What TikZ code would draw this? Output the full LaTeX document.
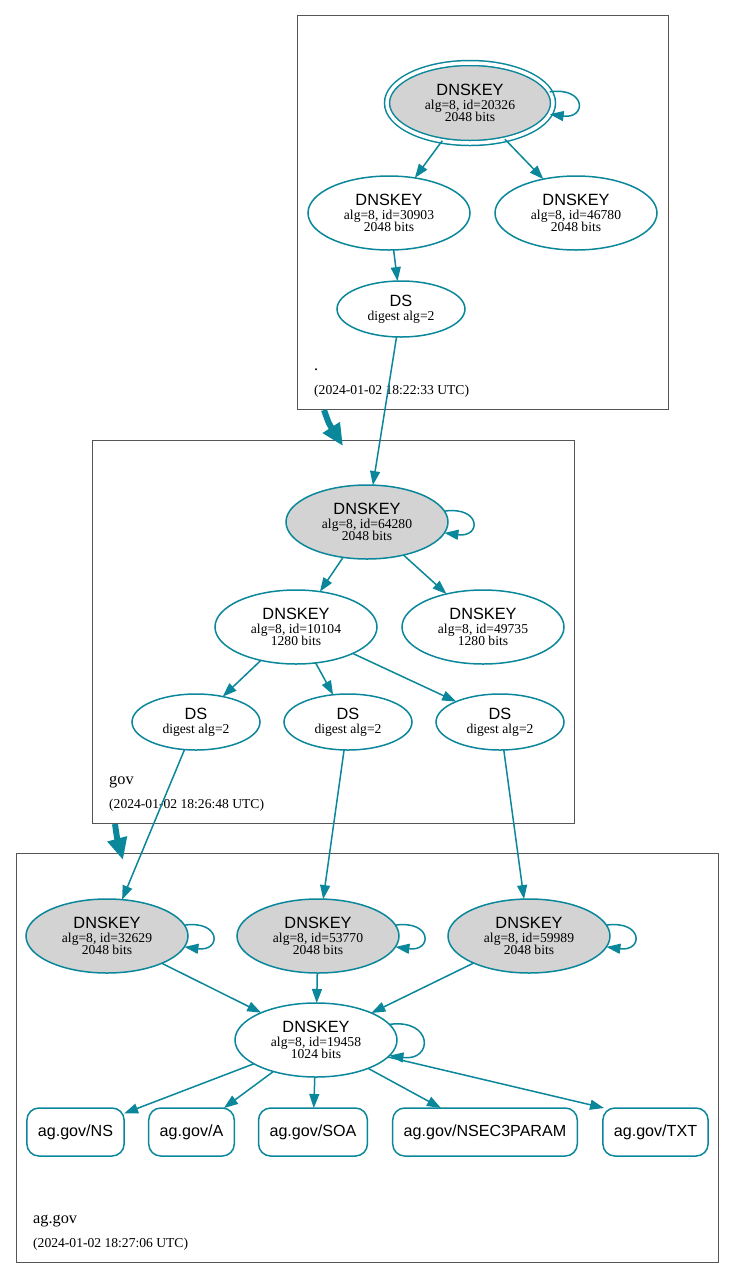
\documentclass[tikz,border=0pt]{standalone}
\usepackage{fontspec}
\setmainfont{Liberation Serif}
\setsansfont{Liberation Sans}
\usepackage{tkz-graph}
\usetikzlibrary{arrows.meta}
\usetikzlibrary{shapes}

\definecolor{secure}{HTML}{0A879A}
\definecolor{kskgray}{HTML}{D3D3D3}
\definecolor{zoneline}{HTML}{555555}

\newcommand{\keytext}[2]{{\sffamily\fontsize{16.3}{16}\selectfont DNSKEY}\\[1.5pt]alg=8, id=#1\\#2 bits}
\newcommand{\dstext}{{\sffamily\fontsize{16.3}{16}\selectfont DS}\\[1.5pt]digest alg=2}

\begin{document}
\begin{tikzpicture}[x = 1pt, y = -1pt]
	\tikzstyle{VertexStyle} = []
	\tikzstyle{LabelStyle} = []
	\tikzstyle{EdgeStyle} = [draw = secure, line width = 1.5pt, -{Triangle[length = 14pt, width = 10pt]}]
	\tikzstyle{keyStyle} = [shape = ellipse, draw = secure, line width = 1.5pt, minimum width = 162pt, minimum height = 74pt, inner sep = 0pt, align = center, font = \fontsize{13.6}{12.5}\selectfont]
	\tikzstyle{kskStyle} = [keyStyle, fill = kskgray]
	\tikzstyle{trustStyle} = [kskStyle, double = white, double distance = 3.5pt, minimum width = 166pt, minimum height = 80pt]
	\tikzstyle{dsStyle} = [keyStyle, minimum width = 128pt, minimum height = 56pt]
	\tikzstyle{rrsetStyle} = [shape = rectangle, rounded corners = 12pt, draw = secure, line width = 1.5pt, minimum height = 48pt, inner xsep = 11pt, font = \sffamily\fontsize{16.1}{16}\selectfont]
	\tikzstyle{zoneStyle} = [draw = zoneline, line width = 0.8pt]
	\tikzstyle{zoneArrow} = [draw = secure, line width = 6pt, -{Triangle[length = 22pt, width = 19pt]}]
	\tikzstyle{zoneName} = [anchor = base west, inner sep = 0pt, font = \fontsize{16.3}{16}\selectfont]
	\tikzstyle{zoneTime} = [anchor = base west, inner sep = 0pt, font = \fontsize{13.6}{13}\selectfont]
	\tikzstyle{loopStyle} = [draw = secure, line width = 1.5pt, -{Triangle[length = 14pt, width = 10pt]}]
	\useasboundingbox (0,0) rectangle (735,1278);
	% zones
	\draw[zoneStyle] (297,15) rectangle (668,409);
	\draw[zoneStyle] (92,440) rectangle (574,823);
	\draw[zoneStyle] (16,853) rectangle (718,1262);
	\node[zoneName] (rootname) at (314,370) {.};
	\node[zoneTime] (roottime) at (314,394) {(2024-01-02 18:22:33 UTC)};
	\node[zoneName] (govname) at (109,784) {gov};
	\node[zoneTime] (govtime) at (109,808) {(2024-01-02 18:26:48 UTC)};
	\node[zoneName] (agname) at (33,1223) {ag.gov};
	\node[zoneTime] (agtime) at (33,1247) {(2024-01-02 18:27:06 UTC)};
	\coordinate (rootout) at (324,410);
	\coordinate (govin) at (343,446);
	\coordinate (govout) at (115,824);
	\coordinate (agin) at (123,860);
	% root
	\Vertex[style = trustStyle, x = 470, y = 103, L = {\keytext{20326}{2048}}]{k20326}
	\Vertex[style = keyStyle, x = 389, y = 213, L = {\keytext{30903}{2048}}]{k30903}
	\Vertex[style = keyStyle, x = 576, y = 213, L = {\keytext{46780}{2048}}]{k46780}
	\Vertex[style = dsStyle, x = 401, y = 309, L = {\dstext}]{dsgov}
	% gov
	\Vertex[style = kskStyle, x = 367, y = 522, L = {\keytext{64280}{2048}}]{k64280}
	\Vertex[style = keyStyle, x = 296, y = 627, L = {\keytext{10104}{1280}}]{k10104}
	\Vertex[style = keyStyle, x = 483, y = 627, L = {\keytext{49735}{1280}}]{k49735}
	\Vertex[style = dsStyle, x = 196, y = 722, L = {\dstext}]{dsag1}
	\Vertex[style = dsStyle, x = 348, y = 722, L = {\dstext}]{dsag2}
	\Vertex[style = dsStyle, x = 500, y = 722, L = {\dstext}]{dsag3}
	% ag.gov
	\Vertex[style = kskStyle, x = 107, y = 936, L = {\keytext{32629}{2048}}]{k32629}
	\Vertex[style = kskStyle, x = 318, y = 936, L = {\keytext{53770}{2048}}]{k53770}
	\Vertex[style = kskStyle, x = 529, y = 936, L = {\keytext{59989}{2048}}]{k59989}
	\Vertex[style = keyStyle, x = 316, y = 1040, L = {\keytext{19458}{1024}}]{k19458}
	\Vertex[style = rrsetStyle, x = 75.5, y = 1132, L = {ag.gov/NS}]{rrns}
	\Vertex[style = rrsetStyle, x = 191.5, y = 1132, L = {ag.gov/A}]{rra}
	\Vertex[style = rrsetStyle, x = 313, y = 1132, L = {ag.gov/SOA}]{rrsoa}
	\Vertex[style = rrsetStyle, x = 485, y = 1132, L = {ag.gov/NSEC3PARAM}]{rrnsec}
	\Vertex[style = rrsetStyle, x = 655.5, y = 1132, L = {ag.gov/TXT}]{rrtxt}
	\Edge(k20326)(k30903)
	\Edge(k20326)(k46780)
	\Edge(k30903)(dsgov)
	\Edge(dsgov)(k64280)
	\Edge(k64280)(k10104)
	\Edge(k64280)(k49735)
	\Edge(k10104)(dsag1)
	\Edge(k10104)(dsag2)
	\Edge(k10104)(dsag3)
	\Edge(dsag1)(k32629)
	\Edge(dsag2)(k53770)
	\Edge(dsag3)(k59989)
	\Edge(k32629)(k19458)
	\Edge(k53770)(k19458)
	\Edge(k59989)(k19458)
	\Edge(k19458)(rrns)
	\Edge(k19458)(rra)
	\Edge(k19458)(rrsoa)
	\Edge(k19458)(rrnsec)
	\Edge(k19458)(rrtxt.155)
	% self loops
	\draw[loopStyle] (k20326.8) .. controls +(37,-5) and +(37,5) .. (k20326.-8);
	\draw[loopStyle] (k64280.8) .. controls +(37,-5) and +(37,5) .. (k64280.-8);
	\draw[loopStyle] (k32629.8) .. controls +(37,-5) and +(37,5) .. (k32629.-8);
	\draw[loopStyle] (k53770.8) .. controls +(37,-5) and +(37,5) .. (k53770.-8);
	\draw[loopStyle] (k59989.8) .. controls +(37,-5) and +(37,5) .. (k59989.-8);
	\draw[loopStyle] (k19458.12) .. controls +(44,-6) and +(44,6) .. (k19458.-12);
	% zone links
	\draw[zoneArrow] (rootout) .. controls (329,424) .. (govin);
	\draw[zoneArrow] (govout) .. controls (117,838) .. (agin);
\end{tikzpicture}
\end{document}
